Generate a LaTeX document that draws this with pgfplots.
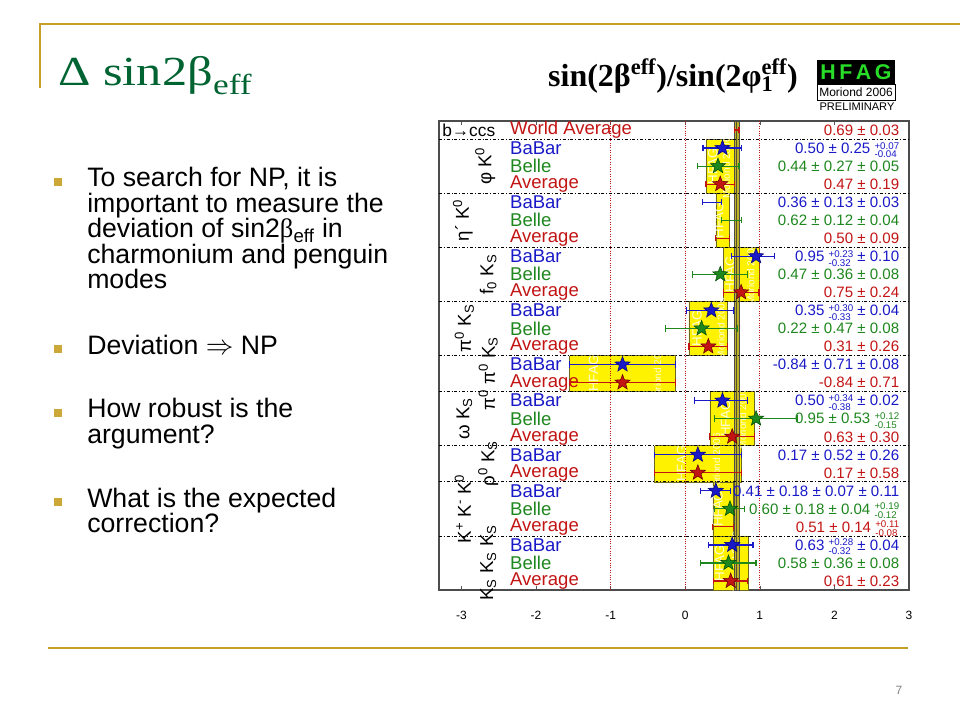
\documentclass[border=0pt]{standalone}
\usepackage{pgfplots}
\pgfplotsset{compat=1.18}
\usepackage{pgfplotstable}
\usepackage{fontspec}
\setmainfont{Liberation Sans}
\newfontfamily\serif{Liberation Serif}

\definecolor{gold}{RGB}{196,160,40}
\definecolor{bulletgold}{RGB}{204,168,56}
\definecolor{titlegreen}{RGB}{0,100,50}
\definecolor{bbblue}{RGB}{25,25,200}
\definecolor{blgreen}{RGB}{30,135,30}
\definecolor{avred}{RGB}{195,20,20}
\definecolor{hyellow}{RGB}{255,242,0}
\definecolor{band}{RGB}{190,178,40}
\definecolor{hfgreen}{RGB}{40,220,40}

% filled five-pointed star
\pgfdeclareplotmark{fstar}{%
  \pgfpathmoveto{\pgfpointpolar{90}{\pgfplotmarksize}}%
  \pgfpathlineto{\pgfpointpolar{126}{0.42\pgfplotmarksize}}%
  \pgfpathlineto{\pgfpointpolar{162}{\pgfplotmarksize}}%
  \pgfpathlineto{\pgfpointpolar{198}{0.42\pgfplotmarksize}}%
  \pgfpathlineto{\pgfpointpolar{234}{\pgfplotmarksize}}%
  \pgfpathlineto{\pgfpointpolar{270}{0.42\pgfplotmarksize}}%
  \pgfpathlineto{\pgfpointpolar{306}{\pgfplotmarksize}}%
  \pgfpathlineto{\pgfpointpolar{342}{0.42\pgfplotmarksize}}%
  \pgfpathlineto{\pgfpointpolar{18}{\pgfplotmarksize}}%
  \pgfpathlineto{\pgfpointpolar{54}{0.42\pgfplotmarksize}}%
  \pgfpathclose\pgfusepathqfillstroke}

\newcommand{\asym}[2]{{\renewcommand\arraystretch{0.72}\fontsize{7.3}{7}\selectfont
  \begin{tabular}{@{}l@{}}#1\\#2\end{tabular}}}
\newcommand{\supsub}[2]{\setbox0\hbox{\textsuperscript{#1}}\setbox2\hbox{\textsubscript{#2}}%
  \rlap{\copy0}\rlap{\copy2}\hskip\ifdim\wd0>\wd2 \wd0\else\wd2\fi}

% value, row, error plus, error minus
\pgfplotstableread{
x y ep em
0.50 2 0.26 0.26
0.95 8 0.25 0.33
0.35 11 0.30 0.33
-0.84 14 0.71 0.71
0.50 16 0.34 0.38
0.17 19 0.58 0.58
0.41 21 0.20 0.20
0.63 24 0.28 0.32
}\babar
\pgfplotstableread{
x y ep em
0.36 5 0.13 0.13
}\babarns
\pgfplotstableread{
x y ep em
0.44 3 0.28 0.28
0.47 9 0.37 0.37
0.22 12 0.48 0.48
0.95 17 0.55 0.56
0.60 22 0.20 0.21
0.58 25 0.37 0.37
}\belle
\pgfplotstableread{
x y ep em
0.62 6 0.13 0.13
}\bellens
\pgfplotstableread{
x y ep em
0.47 4 0.19 0.19
0.75 10 0.24 0.24
0.31 13 0.26 0.26
-0.84 15 0.71 0.71
0.63 18 0.30 0.30
0.17 20 0.58 0.58
0.61 26 0.23 0.23
}\avg
\pgfplotstableread{
x y ep em
0.69 1 0.03 0.03
0.50 7 0.09 0.09
0.51 23 0.14 0.14
}\avgns

\begin{document}
\begin{tikzpicture}
\begin{scope}[x=0.75pt,y=-0.75pt]
\useasboundingbox (0,0) rectangle (960,720);
\fill[white] (0,0) rectangle (960,720);
% slide frame
\draw[gold, line width=1.6pt] (40,88) -- (40,24) -- (960,24);
\draw[gold, line width=2.2pt] (48,648) -- (908,648);
\node[text=gray, font=\fontsize{9}{10}\selectfont] at (899,690) {7};
% slide title
\node[anchor=base west, inner sep=0, text=titlegreen, xscale=1.22, font=\serif\fontsize{31}{34}\selectfont]
  at (58,86) {Δ sin2β\textsubscript{eff}};
% bullets
\foreach \yy in {187,354,417.7,507}{\fill[bulletgold] (53.5,\yy-9) rectangle (61.5,\yy-1);}
\begin{scope}[every node/.style={anchor=base west, inner sep=0, font=\fontsize{20}{19}\selectfont}]
\node at (87,187) {To search for NP, it is};
\node at (87,212.5) {important to measure the};
\node at (87,238) {deviation of sin2{\serif β}\textsubscript{eff} in};
\node at (87,263.5) {charmonium and penguin};
\node at (87,289) {modes};
\node at (87,354) {Deviation $\Rightarrow$ NP};
\node at (87,417.7) {How robust is the};
\node at (87,443) {argument?};
\node at (87,507) {What is the expected};
\node at (87,532) {correction?};
\end{scope}
% plot title and logo
\node[anchor=base, inner sep=0, font=\serif\bfseries\fontsize{24}{26}\selectfont] at (673,87)
  {sin(2β\textsuperscript{eff})/sin(2φ\supsub{eff}{1})};
\fill[black] (817,60) rectangle (895,84);
\node[text=hfgreen, font=\bfseries\fontsize{16}{17}\selectfont] at (856,72.5) {H\,F\,A\,G};
\draw[black, fill=white, line width=0.6pt] (817,84) rectangle (895,100);
\node[font=\fontsize{9}{10}\selectfont] at (856,92) {Moriond 2006};
\node[font=\fontsize{8.3}{9}\selectfont] at (857,106.5) {PRELIMINARY};
\end{scope}

\begin{axis}[
  at={(329.25pt,-442.5pt)}, anchor=south west,
  scale only axis, width=352.5pt, height=351.75pt,
  xmin=-3.3, xmax=3.0, ymin=0.5, ymax=26.5, y dir=reverse,
  ytick=\empty, xtick={-3,-2,-1,0,1,2,3},
  clip=false,
  axis line style={gray!60!black, line width=0.8pt},
  major tick length=3pt, tick style={gray!70!black},
  ticklabel style={font=\fontsize{9}{10}\selectfont, text height=1.6ex, text depth=0.2ex},
  /pgf/number format/assume math mode=true,
  xticklabel style={yshift=-10pt},
  error bars/error bar style={line width=0.9pt},
  error bars/error mark options={rotate=90, mark size=2.4pt, line width=0.9pt},
]
% averages as yellow boxes
\addplot[fill=hyellow, draw=olive!70!black, line width=0.4pt] coordinates {(0.28,1.5)(0.66,1.5)(0.66,4.5)(0.28,4.5)(0.28,1.5)};
\addplot[fill=hyellow, draw=olive!70!black, line width=0.4pt] coordinates {(0.41,4.5)(0.59,4.5)(0.59,7.5)(0.41,7.5)(0.41,4.5)};
\addplot[fill=hyellow, draw=olive!70!black, line width=0.4pt] coordinates {(0.51,7.5)(0.99,7.5)(0.99,10.5)(0.51,10.5)(0.51,7.5)};
\addplot[fill=hyellow, draw=olive!70!black, line width=0.4pt] coordinates {(0.05,10.5)(0.57,10.5)(0.57,13.5)(0.05,13.5)(0.05,10.5)};
\addplot[fill=hyellow, draw=olive!70!black, line width=0.4pt] coordinates {(-1.55,13.5)(-0.13,13.5)(-0.13,15.5)(-1.55,15.5)(-1.55,13.5)};
\addplot[fill=hyellow, draw=olive!70!black, line width=0.4pt] coordinates {(0.33,15.5)(0.93,15.5)(0.93,18.5)(0.33,18.5)(0.33,15.5)};
\addplot[fill=hyellow, draw=olive!70!black, line width=0.4pt] coordinates {(-0.41,18.5)(0.75,18.5)(0.75,20.5)(-0.41,20.5)(-0.41,18.5)};
\addplot[fill=hyellow, draw=olive!70!black, line width=0.4pt] coordinates {(0.37,20.5)(0.65,20.5)(0.65,23.5)(0.37,23.5)(0.37,20.5)};
\addplot[fill=hyellow, draw=olive!70!black, line width=0.4pt] coordinates {(0.38,23.5)(0.84,23.5)(0.84,26.5)(0.38,26.5)(0.38,23.5)};
% faint HFAG watermark inside the boxes
\begin{scope}[every node/.style={rotate=90, text=white, opacity=0.85, inner sep=0}]
\node[font=\fontsize{10}{10}\selectfont] at (axis cs:0.37,3) {HFAG};
\node[font=\fontsize{7.5}{8}\selectfont] at (axis cs:0.55,3.1) {Moriond 2006};
\node[font=\fontsize{10}{10}\selectfont] at (axis cs:0.45,6) {HFAG};
\node[font=\fontsize{10}{10}\selectfont] at (axis cs:0.6,9) {HFAG};
\node[font=\fontsize{7.5}{8}\selectfont] at (axis cs:0.88,9) {Moriond 2006};
\node[font=\fontsize{10}{10}\selectfont] at (axis cs:0.16,12) {HFAG};
\node[font=\fontsize{7.5}{8}\selectfont] at (axis cs:0.48,12) {Moriond 2006};
\node[font=\fontsize{10}{10}\selectfont] at (axis cs:-1.23,14.5) {HFAG};
\node[font=\fontsize{7.5}{8}\selectfont] at (axis cs:-0.37,14.5) {Moriond 2006};
\node[font=\fontsize{10}{10}\selectfont] at (axis cs:0.54,17) {HFAG};
\node[font=\fontsize{7.5}{8}\selectfont] at (axis cs:0.77,17) {Moriond 2006};
\node[font=\fontsize{10}{10}\selectfont] at (axis cs:-0.05,19.5) {HFAG};
\node[font=\fontsize{7.5}{8}\selectfont] at (axis cs:0.42,19.5) {Moriond 2006};
\node[font=\fontsize{10}{10}\selectfont] at (axis cs:0.44,22) {HFAG};
\node[font=\fontsize{10}{10}\selectfont] at (axis cs:0.46,25) {HFAG};
\node[font=\fontsize{7.5}{8}\selectfont] at (axis cs:0.68,25) {Moriond 2006};
\end{scope}
% red dotted reference lines
\addplot[avred, densely dotted, line width=0.8pt] coordinates {(-1,0.5)(-1,26.5)};
\addplot[avred, densely dotted, line width=0.8pt] coordinates {(0,0.5)(0,26.5)};
\addplot[avred, densely dotted, line width=0.8pt] coordinates {(1,0.5)(1,26.5)};
% world average band
\addplot[fill=band, draw=gray!60!black, line width=0.5pt] coordinates {(0.66,0.5)(0.72,0.5)(0.72,26.5)(0.66,26.5)(0.66,0.5)};
\addplot[olive!50!black, line width=0.4pt] coordinates {(0.69,0.5)(0.69,26.5)};
% separators
\pgfplotsinvokeforeach{1.5,4.5,7.5,10.5,13.5,15.5,18.5,20.5,23.5}{
  \addplot[black, line width=0.5pt, dash pattern=on 2.2pt off 1.5pt on 0.6pt off 1.5pt] coordinates {(-3.3,#1)(3.0,#1)};}
% measurements
\addplot[only marks, mark=fstar, mark size=6pt, fill=bbblue, draw=blue!50!black, line width=0.4pt,
  error bars/.cd, x dir=both, x explicit, error bar style={bbblue}]
  table[x=x, y=y, x error plus=ep, x error minus=em] {\babar};
\addplot[only marks, mark=*, mark options={opacity=0}, draw=bbblue,
  error bars/.cd, x dir=both, x explicit, error bar style={bbblue}]
  table[x=x, y=y, x error plus=ep, x error minus=em] {\babarns};
\addplot[only marks, mark=fstar, mark size=6pt, fill=blgreen, draw=green!30!black, line width=0.4pt,
  error bars/.cd, x dir=both, x explicit, error bar style={blgreen}]
  table[x=x, y=y, x error plus=ep, x error minus=em] {\belle};
\addplot[only marks, mark=*, mark options={opacity=0}, draw=blgreen,
  error bars/.cd, x dir=both, x explicit, error bar style={blgreen}]
  table[x=x, y=y, x error plus=ep, x error minus=em] {\bellens};
\addplot[only marks, mark=fstar, mark size=6pt, fill=avred, draw=red!40!black, line width=0.4pt,
  error bars/.cd, x dir=both, x explicit, error bar style={avred}]
  table[x=x, y=y, x error plus=ep, x error minus=em] {\avg};
\addplot[only marks, mark=*, mark options={opacity=0}, draw=avred,
  error bars/.cd, x dir=both, x explicit, error bar style={avred}]
  table[x=x, y=y, x error plus=ep, x error minus=em] {\avgns};
% mode labels
\begin{scope}[every node/.style={rotate=90, font=\fontsize{14}{15}\selectfont, inner sep=0}]
\node at (axis cs:-2.68,3) {φ K\textsuperscript{0}};
\node at (axis cs:-2.98,6) {η´ K\textsuperscript{0}};
\node at (axis cs:-2.64,9) {f\textsubscript{0} K\textsubscript{S}};
\node at (axis cs:-2.96,12) {π\textsuperscript{0} K\textsubscript{S}};
\node at (axis cs:-2.64,14.5) {π\textsuperscript{0} π\textsuperscript{0} K\textsubscript{S}};
\node at (axis cs:-2.96,17) {ω K\textsubscript{S}};
\node at (axis cs:-2.64,19.5) {ρ\textsuperscript{0} K\textsubscript{S}};
\node at (axis cs:-2.98,22) {K\textsuperscript{+} K\textsuperscript{-} K\textsuperscript{0}};
\node at (axis cs:-2.64,25) {K\textsubscript{S} K\textsubscript{S} K\textsubscript{S}};
\end{scope}
\node[anchor=west, inner sep=0, font=\fontsize{13}{14}\selectfont] at (axis cs:-3.26,1) {b→ccs};
% experiment labels
\begin{scope}[every node/.style={anchor=west, inner sep=0, font=\fontsize{13.9}{14}\selectfont}]
\node[text=avred] at (axis cs:-2.35,1) {World Average};
\pgfplotsinvokeforeach{2,5,8,11,14,16,19,21,24}{\node[text=bbblue] at (axis cs:-2.35,#1) {BaBar};}
\pgfplotsinvokeforeach{3,6,9,12,17,22,25}{\node[text=blgreen] at (axis cs:-2.35,#1) {Belle};}
\pgfplotsinvokeforeach{4,7,10,13,15,18,20,23,26}{\node[text=avred] at (axis cs:-2.35,#1) {Average};}
\end{scope}
% numbers
\begin{scope}[every node/.style={anchor=base east, yshift=-4pt, inner sep=0, font=\fontsize{11.3}{12}\selectfont}]
\node[text=avred] at (axis cs:2.872,1) {0.69 ± 0.03};
\node[text=bbblue] at (axis cs:2.872,2) {0.50 ± 0.25 \asym{+0.07}{-0.04}};
\node[text=blgreen] at (axis cs:2.872,3) {0.44 ± 0.27 ± 0.05};
\node[text=avred] at (axis cs:2.872,4) {0.47 ± 0.19};
\node[text=bbblue] at (axis cs:2.872,5) {0.36 ± 0.13 ± 0.03};
\node[text=blgreen] at (axis cs:2.872,6) {0.62 ± 0.12 ± 0.04};
\node[text=avred] at (axis cs:2.872,7) {0.50 ± 0.09};
\node[text=bbblue] at (axis cs:2.872,8) {0.95 \asym{+0.23}{-0.32} ± 0.10};
\node[text=blgreen] at (axis cs:2.872,9) {0.47 ± 0.36 ± 0.08};
\node[text=avred] at (axis cs:2.872,10) {0.75 ± 0.24};
\node[text=bbblue] at (axis cs:2.872,11) {0.35 \asym{+0.30}{-0.33} ± 0.04};
\node[text=blgreen] at (axis cs:2.872,12) {0.22 ± 0.47 ± 0.08};
\node[text=avred] at (axis cs:2.872,13) {0.31 ± 0.26};
\node[text=bbblue] at (axis cs:2.872,14) {-0.84 ± 0.71 ± 0.08};
\node[text=avred] at (axis cs:2.872,15) {-0.84 ± 0.71};
\node[text=bbblue] at (axis cs:2.872,16) {0.50 \asym{+0.34}{-0.38} ± 0.02};
\node[text=blgreen] at (axis cs:2.872,17) {0.95 ± 0.53 \asym{+0.12}{-0.15}};
\node[text=avred] at (axis cs:2.872,18) {0.63 ± 0.30};
\node[text=bbblue] at (axis cs:2.872,19) {0.17 ± 0.52 ± 0.26};
\node[text=avred] at (axis cs:2.872,20) {0.17 ± 0.58};
\node[text=bbblue] at (axis cs:2.872,21) {0.41 ± 0.18 ± 0.07 ± 0.11};
\node[text=blgreen] at (axis cs:2.872,22) {0.60 ± 0.18 ± 0.04 \asym{+0.19}{-0.12}};
\node[text=avred] at (axis cs:2.872,23) {0.51 ± 0.14 \asym{+0.11}{-0.08}};
\node[text=bbblue] at (axis cs:2.872,24) {0.63 \asym{+0.28}{-0.32} ± 0.04};
\node[text=blgreen] at (axis cs:2.872,25) {0.58 ± 0.36 ± 0.08};
\node[text=avred] at (axis cs:2.872,26) {0.61 ± 0.23};
\end{scope}
\end{axis}
\end{tikzpicture}
\end{document}
